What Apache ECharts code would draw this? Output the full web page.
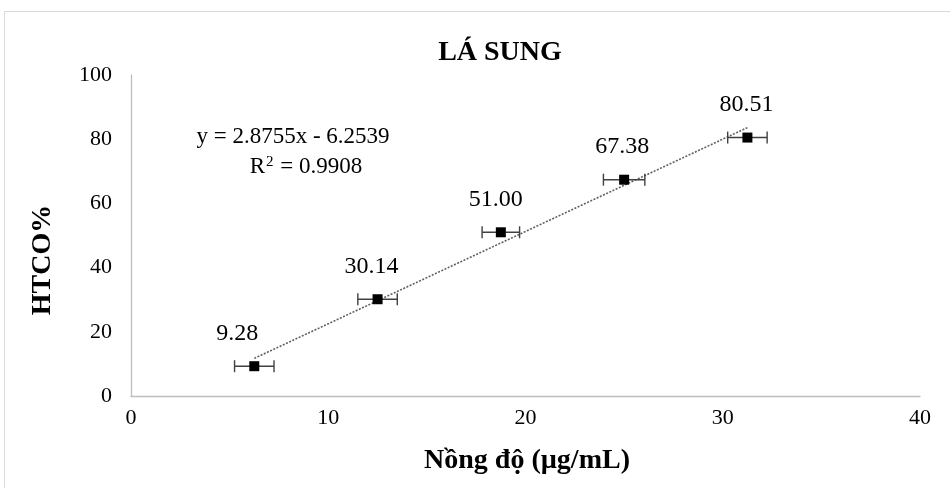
<!DOCTYPE html>
<html>
<head>
<meta charset="utf-8">
<script src="https://cdn.jsdelivr.net/npm/echarts@6/dist/echarts.min.js"></script>
<style>html,body{margin:0;padding:0;background:#fff}#c{width:950px;height:488px}</style>
</head>
<body>
<div id="c"></div>
<script>
var concentrations = [6.25, 12.5, 18.75, 25, 31.25];
var inhibition = [9.28, 30.14, 51.00, 67.38, 80.51];
var xErrors = [1.0, 1.0, 0.95, 1.05, 1.0];
var valueLabels = ['9.28', '30.14', '51.00', '67.38', '80.51'];
var trendX = [6.25, 31.25];
var trendY = [11.72, 83.61];
var xTicks = [0, 10, 20, 30, 40];
var yTicks = [0, 20, 40, 60, 80, 100];
var labelOffsets = [[-17, 0], [-6, 0], [-5, 0], [-2, 0], [-1, 0]];

var font = '"Liberation Serif", "Times New Roman", serif';
var chart = echarts.init(document.getElementById('c'));

var pts = concentrations.map(function (x, i) {
  return { value: [x, inhibition[i]], label: { offset: labelOffsets[i], formatter: valueLabels[i] } };
});
var errData = concentrations.map(function (x, i) { return [x, inhibition[i], xErrors[i]]; });
var trend = trendX.map(function (x, i) { return [x, trendY[i]]; });

chart.setOption({
  animation: false,
  backgroundColor: '#fff',
  textStyle: { fontFamily: font },
  title: {
    text: 'LÁ SUNG', left: 495, top: 34, textAlign: 'center',
    textStyle: { fontFamily: font, fontSize: 28, fontWeight: 'bold', color: '#000' }
  },
  grid: { left: 131, right: 30, top: 75, bottom: 92 },
  xAxis: {
    type: 'value', min: xTicks[0], max: xTicks[xTicks.length - 1], interval: 10,
    splitLine: { show: false }, axisTick: { show: false },
    axisLine: { lineStyle: { color: '#bdbdbd', width: 1.3 } },
    axisLabel: { fontFamily: font, fontSize: 22, color: '#000', margin: 11 }
  },
  yAxis: {
    type: 'value', min: yTicks[0], max: yTicks[yTicks.length - 1], interval: 20,
    splitLine: { show: false }, axisTick: { show: false },
    axisLine: { show: true, lineStyle: { color: '#bdbdbd', width: 1.3 } },
    axisLabel: { fontFamily: font, fontSize: 22, color: '#000', margin: 19 }
  },
  graphic: [
    { type: 'rect', shape: { x: 4.5, y: 11.5, width: 1000, height: 600 }, style: { fill: 'none', stroke: '#d9d9d9', lineWidth: 1 }, silent: true, z: -10 },
    { type: 'text', x: 43, y: 260, rotation: Math.PI / 2,
      style: { text: 'HTCO%', font: 'bold 28px ' + font, fill: '#000', textAlign: 'center', textVerticalAlign: 'middle' } },
    { type: 'text', x: 527, y: 461,
      style: { text: 'Nồng độ (µg/mL)', font: 'bold 28px ' + font, fill: '#000', textAlign: 'center', textVerticalAlign: 'middle' } },
    { type: 'text', x: 293, y: 137,
      style: { text: 'y = 2.8755x - 6.2539', font: '23px ' + font, fill: '#000', textAlign: 'center', textVerticalAlign: 'middle' } },
    { type: 'text', x: 306, y: 167,
      style: { text: '{a|R}{s|2}{a| = 0.9908}', textAlign: 'center', textVerticalAlign: 'middle',
        rich: { a: { fontFamily: font, fontSize: 23, fill: '#000', color: '#000' },
                s: { fontFamily: font, fontSize: 15, fill: '#000', color: '#000', verticalAlign: 'top', padding: [0, 1, 10, 1] } } } }
  ],
  series: [
    {
      type: 'line', data: trend, symbol: 'none', z: 1, silent: true,
      lineStyle: { color: '#606060', width: 1.6, type: [2, 1.5] }
    },
    {
      type: 'custom', z: 2, silent: true, data: errData,
      encode: { x: 0, y: 1 },
      renderItem: function (params, api) {
        var x = api.value(0), y = api.value(1), e = api.value(2);
        var p1 = api.coord([x - e, y]), p2 = api.coord([x + e, y]);
        var st = { stroke: '#404040', lineWidth: 1.4 };
        return { type: 'group', children: [
          { type: 'line', shape: { x1: p1[0], y1: p1[1], x2: p2[0], y2: p2[1] }, style: st },
          { type: 'line', shape: { x1: p1[0], y1: p1[1] - 6, x2: p1[0], y2: p1[1] + 6 }, style: st },
          { type: 'line', shape: { x1: p2[0], y1: p2[1] - 6, x2: p2[0], y2: p2[1] + 6 }, style: st }
        ] };
      }
    },
    {
      type: 'scatter', data: pts, symbol: 'rect', symbolSize: 10, z: 3,
      itemStyle: { color: '#000', opacity: 1 },
      label: { show: true, position: 'top', distance: 16, fontFamily: font, fontSize: 24, color: '#000', opacity: 1 }
    }
  ]
});
</script>
</body>
</html>
